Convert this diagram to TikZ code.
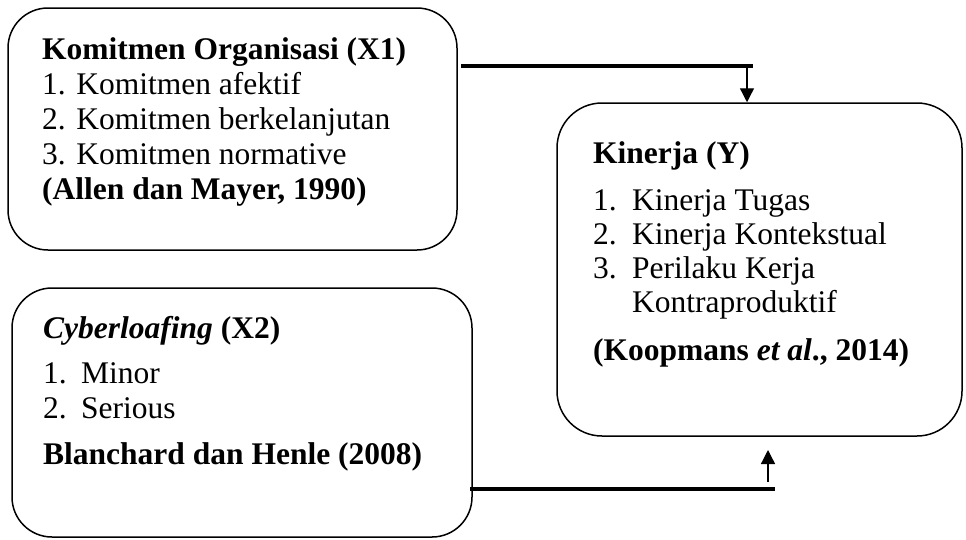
\documentclass[tikz,border=0pt]{standalone}
\usepackage{fontspec}
\setmainfont{Liberation Serif}
\usetikzlibrary{arrows.meta}
\begin{document}
\begin{tikzpicture}[x=1pt,y=-1pt,
  box/.style={draw,line width=1.5pt,rounded corners=40pt,minimum width=#1,inner sep=0pt},
  txt/.style={anchor=base west,inner sep=0pt,font=\fontsize{31.5}{35}\selectfont},
  thick line/.style={line width=4pt},
  arr/.style={line width=1.3pt,-{Triangle[width=14pt,length=14pt]}}]
\useasboundingbox (0,0) rectangle (966,539);
% boxes
\node[box=449pt,minimum height=242pt] (b1) at (232.5,129) {};
\node[box=460pt,minimum height=249pt] (b2) at (242,412.5) {};
\node[box=405pt,minimum height=333pt,rounded corners=45pt] (b3) at (759.5,269.5) {};
% box 1 text
\node[txt] (t11) at (42,59) {\textbf{Komitmen Organisasi (X1)}};
\node[txt] (t12) at (42,94) {1. Komitmen afektif};
\node[txt] (t13) at (42,129) {2. Komitmen berkelanjutan};
\node[txt] (t14) at (42,164) {3. Komitmen normative};
\node[txt] (t15) at (42,199) {\textbf{(Allen dan Mayer, 1990)}};
% box 2 text
\node[txt] (t21) at (43,338) {\textbf{\textit{Cyberloafing} (X2)}};
\node[txt] (t22n) at (43,383) {1.};
\node[txt] (t22) at (81,383) {Minor};
\node[txt] (t23n) at (43,418) {2.};
\node[txt] (t23) at (81,418) {Serious};
\node[txt] (t24) at (43,464) {\textbf{Blanchard dan Henle (2008)}};
% box 3 text
\node[txt] (t31) at (593,163) {\textbf{Kinerja (Y)}};
\node[txt] (t32n) at (593,210) {1.};
\node[txt] (t32) at (632,210) {Kinerja Tugas};
\node[txt] (t33n) at (593,244) {2.};
\node[txt] (t33) at (632,244) {Kinerja Kontekstual};
\node[txt] (t34n) at (593,278) {3.};
\node[txt] (t34) at (632,278) {Perilaku Kerja};
\node[txt] (t35) at (632,312) {Kontraproduktif};
\node[txt] (t36) at (593,360) {\textbf{(Koopmans \textit{et al}., 2014)}};
% connectors
\coordinate (c1a) at (461,66);
\coordinate (c1b) at (753,66);
\coordinate (c1c) at (747,66);
\draw[thick line] (c1a) -- (c1b);
\draw[arr] (c1c) -- (c1c |- b3.north);
\coordinate (c2a) at (470,489);
\coordinate (c2b) at (775,489);
\coordinate (c2c) at (768,482);
\coordinate (c2d) at (768,450);
\draw[thick line] (c2a) -- (c2b);
\draw[arr] (c2c) -- (c2d);
\end{tikzpicture}
\end{document}
